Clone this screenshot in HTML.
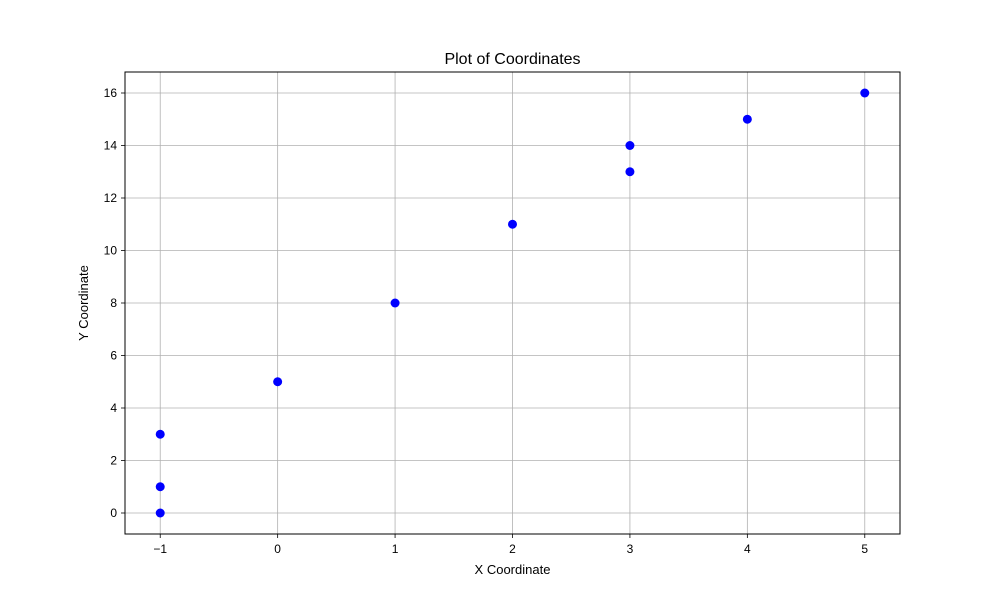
<!DOCTYPE html>
<html><head><meta charset="utf-8"><style>
html,body{margin:0;padding:0;background:#fff;}
svg{display:block;font-family:"Liberation Sans","DejaVu Sans",sans-serif;}
</style></head><body>
<svg id="chart" width="1000" height="600">
<rect width="1000" height="600" fill="#fff"/>
<text x="512.5" y="64" text-anchor="middle" font-size="16">Plot of Coordinates</text>
<g id="grid"></g><g id="ticks"></g><g id="points"></g>
<rect x="125" y="72" width="775" height="462" fill="none" stroke="#000" stroke-width="1"/>
<text x="512.5" y="574" text-anchor="middle" font-size="13">X Coordinate</text>
<text x="88" y="303" text-anchor="middle" font-size="13" transform="rotate(-90 88 303)">Y Coordinate</text>
</svg>
<script>
const xs = [-1, -1, -1, 0, 1, 2, 3, 3, 4, 5];
const ys = [0, 1, 3, 5, 8, 11, 13, 14, 15, 16];
const xTicks = [-1, 0, 1, 2, 3, 4, 5];
const yTicks = [0, 2, 4, 6, 8, 10, 12, 14, 16];
const NS = "http://www.w3.org/2000/svg";
const L = 125, R = 900, T = 72, B = 534;
const xMin = -1.3, xMax = 5.3, yMin = -0.8, yMax = 16.8;
function sx(v){ return L + (v - xMin) / (xMax - xMin) * (R - L); }
function sy(v){ return B - (v - yMin) / (yMax - yMin) * (B - T); }
function mk(tag, attrs, parent){ const e = document.createElementNS(NS, tag); for (const k in attrs) e.setAttribute(k, attrs[k]); parent.appendChild(e); return e; }
const grid = document.getElementById('grid'), ticks = document.getElementById('ticks'), pts = document.getElementById('points');
xTicks.forEach(t => {
  const x = sx(t);
  const g = mk('line', {x1:x, x2:x, y1:T, y2:B, stroke:'#b0b0b0', 'stroke-width':0.8}, grid);
  
  
  mk('line', {x1:x, x2:x, y1:B, y2:B+4, stroke:'#000', 'stroke-width':0.8}, ticks);
  const tx = mk('text', {x:x, y:B+19, 'text-anchor':'middle', 'font-size':12}, ticks);
  tx.textContent = t < 0 ? '\u2212' + Math.abs(t) : String(t);
  
  
});
yTicks.forEach(t => {
  const y = sy(t);
  const g = mk('line', {x1:L, x2:R, y1:y, y2:y, stroke:'#b0b0b0', 'stroke-width':0.8}, grid);
  
  
  mk('line', {x1:L-4, x2:L, y1:y, y2:y, stroke:'#000', 'stroke-width':0.8}, ticks);
  const tx = mk('text', {x:L-8, y:y+4, 'text-anchor':'end', 'font-size':12}, ticks);
  tx.textContent = String(t);
  
  
});
xs.forEach((xv, i) => {
  const c = mk('circle', {cx:sx(xv), cy:sy(ys[i]), r:4.5, fill:'#0000ff'}, pts);
  
  
});
</script>
</body></html>
